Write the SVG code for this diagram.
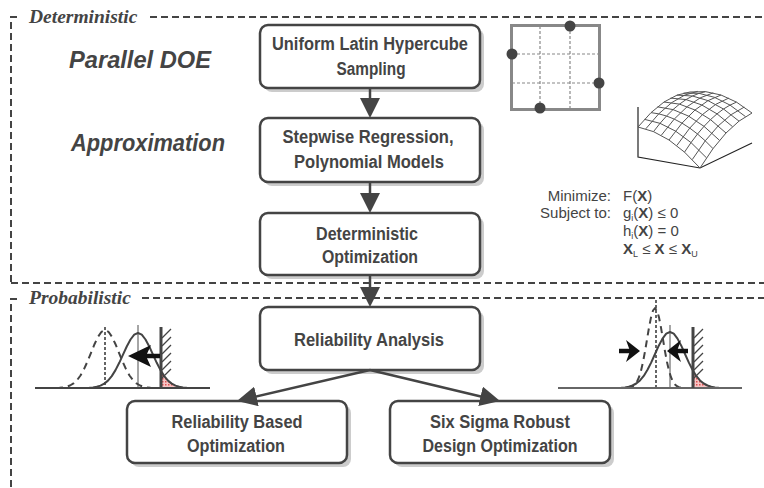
<svg xmlns="http://www.w3.org/2000/svg" width="764" height="488" viewBox="0 0 764 488">
<style>
.frame{fill:none;stroke:#444;stroke-width:2;stroke-dasharray:7,4}
.region{font-family:"Liberation Serif","Times New Roman",serif;font-weight:bold;font-style:italic;font-size:19.5px;fill:#444}
.stage{font-family:"Liberation Sans",Arial,sans-serif;font-weight:bold;font-style:italic;font-size:24px;fill:#444}
.box{fill:#fff;stroke:#444;stroke-width:2.5}
.shadow{fill:#cccccc}
.lbl{font-family:"Liberation Sans",Arial,sans-serif;font-weight:bold;font-size:18px;fill:#444;text-anchor:middle}
.conn{fill:none;stroke:#444;stroke-width:2.5}
.form{font-family:"Liberation Sans",Arial,sans-serif;font-size:15px;fill:#444}
.sub{font-size:9px}
.mesh{fill:none;stroke:#555;stroke-width:1}
.axis3d{fill:none;stroke:#222;stroke-width:1.2}
.grid{stroke:#888;stroke-width:1.2;stroke-dasharray:3,2}
.dot{fill:#444}
.curve{fill:none;stroke:#444;stroke-width:2;stroke-linejoin:round}
.dcurve{fill:none;stroke:#444;stroke-width:2;stroke-dasharray:7,5;stroke-linejoin:round}
.meanline{stroke:#888;stroke-width:1.5}
.dotline{stroke:#333;stroke-width:1.5;stroke-dasharray:3,2}
.limit{stroke:#444;stroke-width:3}
.hatch{stroke:#444;stroke-width:1.3}
.fail{fill:url(#redpat);stroke:none}
.bigarrow{fill:#111}
</style>
<defs>
<marker id="ah" markerUnits="userSpaceOnUse" markerWidth="20" markerHeight="20" refX="10" refY="10" orient="auto">
<path d="M0,0 L20,10 L0,20 Z" fill="#444"/>
</marker>
<pattern id="redpat" patternUnits="userSpaceOnUse" width="3" height="3">
<rect width="3" height="3" fill="#f7c4c4"/>
<rect width="1.5" height="1.5" fill="#e05050"/>
</pattern>
</defs>

<!-- region frames -->
<g id="deterministic-region">
<path class="frame" d="M17,17 H11 V283"/>
<path class="frame" d="M150,17 H764"/>
<path class="frame" d="M11,283 H764"/>
<text class="region" x="29" y="23">Deterministic</text>
</g>
<g id="probabilistic-region">
<path class="frame" d="M17,299 H11 V488"/>
<path class="frame" d="M142,298 H764"/>
<text class="region" x="29" y="304">Probabilistic</text>
</g>

<text class="stage" x="69" y="68" textLength="142" lengthAdjust="spacingAndGlyphs">Parallel DOE</text>
<text class="stage" x="71" y="151" textLength="154" lengthAdjust="spacingAndGlyphs">Approximation</text>

<!-- nodes -->
<g id="node-lhs">
<rect class="shadow" x="264" y="29" width="220" height="63" rx="8"/>
<rect class="box" x="260" y="25" width="220" height="63" rx="8"/>
<text class="lbl" x="370" y="50" textLength="196" lengthAdjust="spacingAndGlyphs">Uniform Latin Hypercube</text>
<text class="lbl" x="371" y="75" textLength="69" lengthAdjust="spacingAndGlyphs">Sampling</text>
</g>
<g id="node-regression">
<rect class="shadow" x="264" y="122" width="220" height="64" rx="8"/>
<rect class="box" x="260" y="118" width="220" height="64" rx="8"/>
<text class="lbl" x="368" y="143" textLength="171" lengthAdjust="spacingAndGlyphs">Stepwise Regression,</text>
<text class="lbl" x="369" y="168" textLength="150" lengthAdjust="spacingAndGlyphs">Polynomial Models</text>
</g>
<g id="node-detopt">
<rect class="shadow" x="264" y="217" width="220" height="62" rx="8"/>
<rect class="box" x="260" y="213" width="220" height="62" rx="8"/>
<text class="lbl" x="367" y="240" textLength="102" lengthAdjust="spacingAndGlyphs">Deterministic</text>
<text class="lbl" x="370" y="263" textLength="96" lengthAdjust="spacingAndGlyphs">Optimization</text>
</g>
<g id="node-reliability">
<rect class="shadow" x="264" y="311" width="220" height="63" rx="8"/>
<rect class="box" x="260" y="307" width="220" height="63" rx="8"/>
<text class="lbl" x="369" y="346" textLength="150" lengthAdjust="spacingAndGlyphs">Reliability Analysis</text>
</g>
<g id="node-rbo">
<rect class="shadow" x="131" y="405" width="220" height="62" rx="8"/>
<rect class="box" x="127" y="401" width="220" height="62" rx="8"/>
<text class="lbl" x="237" y="428" textLength="131" lengthAdjust="spacingAndGlyphs">Reliability Based</text>
<text class="lbl" x="236" y="452" textLength="98" lengthAdjust="spacingAndGlyphs">Optimization</text>
</g>
<g id="node-sixsigma">
<rect class="shadow" x="394" y="405" width="220" height="62" rx="8"/>
<rect class="box" x="390" y="401" width="220" height="62" rx="8"/>
<text class="lbl" x="500" y="428" textLength="140" lengthAdjust="spacingAndGlyphs">Six Sigma Robust</text>
<text class="lbl" x="500" y="452" textLength="155" lengthAdjust="spacingAndGlyphs">Design Optimization</text>
</g>

<!-- connectors -->
<g id="connectors">
<line class="conn" x1="370" y1="88" x2="370" y2="108" marker-end="url(#ah)"/>
<line class="conn" x1="370" y1="182" x2="370" y2="203" marker-end="url(#ah)"/>
<line class="conn" x1="370" y1="275" x2="370" y2="297" marker-end="url(#ah)"/>
<line class="conn" x1="370" y1="370" x2="246.7" y2="398.7" marker-end="url(#ah)"/>
<line class="conn" x1="370" y1="370" x2="490.3" y2="398.7" marker-end="url(#ah)"/>
</g>

<!-- Latin hypercube sketch -->
<g id="lhs-sketch">
<line class="grid" x1="540" y1="26" x2="540" y2="109"/>
<line class="grid" x1="570" y1="26" x2="570" y2="109"/>
<line class="grid" x1="512" y1="54" x2="599" y2="54"/>
<line class="grid" x1="512" y1="83" x2="599" y2="83"/>
<rect x="511.5" y="25.5" width="88" height="84" fill="none" stroke="#888" stroke-width="3"/>
<circle class="dot" cx="570" cy="26" r="5.5"/>
<circle class="dot" cx="512" cy="54" r="5.5"/>
<circle class="dot" cx="599" cy="83" r="5.5"/>
<circle class="dot" cx="540" cy="108" r="5.5"/>
</g>

<!-- response surface sketch -->
<g id="surface-sketch">
<path class="axis3d" d="M638,107 V157 L700,168 L752,143"/>
<path class="mesh" d="M700,168 Q669,132.5 638,127
M706.5,157.84 Q675.5,123.59 644.5,119.34
M713,148.63 Q682,115.63 651,112.63
M719.5,140.34 Q688.5,108.59 657.5,106.84
M726,133 Q695,102.5 664,102
M732.5,126.59 Q701.5,97.34 670.5,98.09
M739,121.13 Q708,93.13 677,95.13
M745.5,116.59 Q714.5,89.84 683.5,93.09
M752,113 Q721,87.5 690,92
M700,168 Q726,125.5 752,113
M692.25,159.59 Q718.25,118.34 744.25,107.09
M684.5,152.13 Q710.5,112.13 736.5,102.13
M676.75,145.59 Q702.75,106.84 728.75,98.09
M669,140 Q695,102.5 721,95
M661.25,135.34 Q687.25,99.09 713.25,92.84
M653.5,131.63 Q679.5,96.63 705.5,91.63
M645.75,128.84 Q671.75,95.09 697.75,91.34
M638,127 Q664,94.5 690,92"/>
</g>

<!-- optimization formulation -->
<g id="formulation">
<text class="form" x="611" y="201" text-anchor="end">Minimize:</text>
<text class="form" x="611" y="218" text-anchor="end">Subject to:</text>
<text class="form" x="623" y="201">F(<tspan font-weight="bold">X</tspan>)</text>
<text class="form" x="623" y="218">g<tspan class="sub" dy="3">i</tspan><tspan dy="-3">(</tspan><tspan font-weight="bold">X</tspan>) ≤ 0</text>
<text class="form" x="623" y="236">h<tspan class="sub" dy="3">i</tspan><tspan dy="-3">(</tspan><tspan font-weight="bold">X</tspan>) = 0</text>
<text class="form" x="623" y="254"><tspan font-weight="bold">X</tspan><tspan class="sub" dy="3">L</tspan><tspan dy="-3"> ≤ </tspan><tspan font-weight="bold">X</tspan> ≤ <tspan font-weight="bold">X</tspan><tspan class="sub" dy="3">U</tspan></text>
</g>

<!-- reliability shift sketch (left) -->
<g id="reliability-sketch">
<polygon class="fail" points="161,371 164.25,376.1 168,380.6 171.75,383.6 175.5,385.6 179.25,386.7 183,387.4 186.75,387.7 190.5,388 161,388"/>
<line class="dotline" x1="105" y1="327" x2="105" y2="388"/>
<line class="meanline" x1="138" y1="325" x2="138" y2="388"/>
<polyline class="dcurve" points="56,387.9 59.5,387.7 63,387.4 66.5,386.7 70,385.5 73.5,383.4 77,380.2 80.5,375.5 84,369.2 87.5,361.4 91,352.8 94.5,344.2 98,336.8 101.5,331.8 105,330 108.5,331.8 112,336.8 115.5,344.2 119,352.8 122.5,361.4 126,369.2 129.5,375.5 133,380.2 136.5,383.4 140,385.5 143.5,386.7 147,387.4 150.5,387.7 154,387.9"/>
<polyline class="curve" points="80,388 85.5,387.9 89.25,387.7 93,387.4 96.75,386.7 100.5,385.6 104.25,383.6 108,380.6 111.75,376.1 115.5,370.1 119.25,362.8 123,354.6 126.75,346.5 130.5,339.5 134.25,334.7 138,333 141.75,334.7 145.5,339.5 149.25,346.5 153,354.6 156.75,362.8 160.5,370.1 164.25,376.1 168,380.6 171.75,383.6 175.5,385.6 179.25,386.7 183,387.4 186.75,387.7 190.5,387.9 198,388"/>
<line x1="35" y1="388" x2="210" y2="388" stroke="#444" stroke-width="2"/>
<line class="limit" x1="161" y1="327" x2="161" y2="388"/>
<path class="hatch" d="M162,338 L171,329 M162,346 L171,337 M162,354 L171,345 M162,362 L171,353 M162,370 L171,361 M162,378 L171,369"/>
<line x1="145" y1="356" x2="160" y2="356" stroke="#111" stroke-width="4.5"/>
<path class="bigarrow" d="M128,356 L151,345 L146,356 L151,367 Z"/>
</g>

<!-- robustness sketch (right) -->
<g id="robust-sketch">
<polygon class="fail" points="694,372 696.25,375.9 700,380.4 703.75,383.5 707.5,385.5 711.25,386.7 715,387.4 718.75,387.7 722.5,388 694,388"/>
<line class="dotline" x1="656" y1="300" x2="656" y2="388"/>
<line class="meanline" x1="670" y1="325" x2="670" y2="388"/>
<polyline class="dcurve" points="627,387.8 629,387.6 631,387.1 633,386.2 635,384.5 637,381.6 639,377.2 641,370.7 643,362 645,351.4 647,339.5 649,327.6 651,317.4 653,310.5 655,308 657,310.5 659,317.4 661,327.6 663,339.5 665,351.4 667,362 669,370.7 671,377.2 673,381.6 675,384.5 677,386.2 679,387.1 681,387.6 683,387.8"/>
<polyline class="curve" points="608,388 617.5,387.9 621.25,387.7 625,387.4 628.75,386.7 632.5,385.5 636.25,383.5 640,380.4 643.75,375.9 647.5,369.8 651.25,362.4 655,354 658.75,345.7 662.5,338.6 666.25,333.7 670,332 673.75,333.7 677.5,338.6 681.25,345.7 685,354 688.75,362.4 692.5,369.8 696.25,375.9 700,380.4 703.75,383.5 707.5,385.5 711.25,386.7 715,387.4 718.75,387.7 722.5,387.9 730,388"/>
<line x1="558" y1="388" x2="742" y2="388" stroke="#666" stroke-width="2"/>
<line class="limit" x1="693" y1="327" x2="693" y2="388"/>
<path class="hatch" d="M694,338 L703,329 M694,346 L703,337 M694,354 L703,345 M694,362 L703,353 M694,370 L703,361 M694,378 L703,369"/>
<line x1="619" y1="351" x2="630" y2="351" stroke="#111" stroke-width="4.5"/>
<path class="bigarrow" d="M640,351 L626,340 L630,351 L626,362 Z"/>
<line x1="677" y1="351" x2="688" y2="351" stroke="#111" stroke-width="4.5"/>
<path class="bigarrow" d="M667,351 L681,340 L677,351 L681,362 Z"/>
</g>
</svg>
